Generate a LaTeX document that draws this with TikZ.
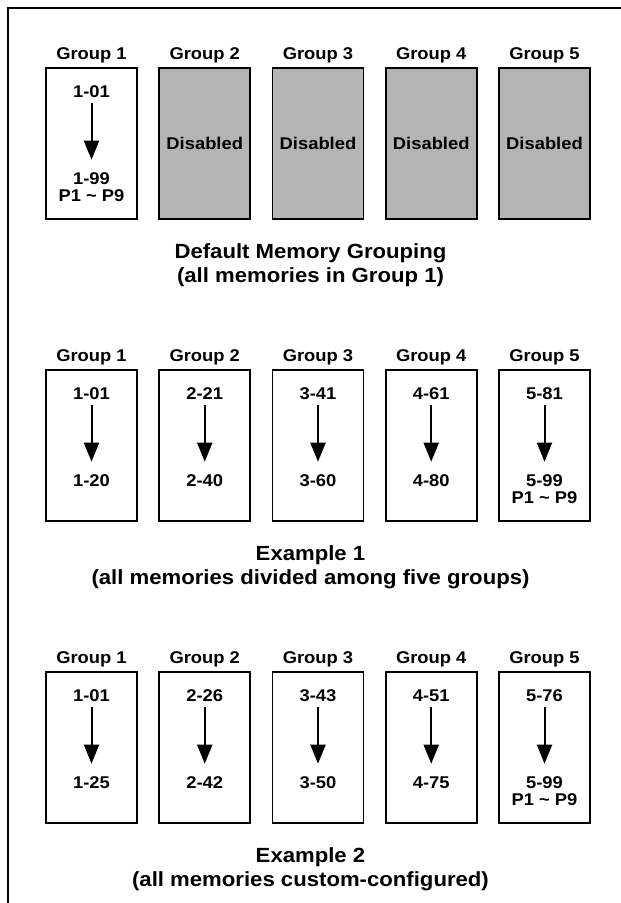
\documentclass[tikz,border=0pt]{standalone}
\usepackage{fontspec}
\setmainfont{Liberation Sans}[FakeStretch=1.08]
\usetikzlibrary{arrows.meta}
\definecolor{disgray}{RGB}{180,180,180}
\begin{document}
\begin{tikzpicture}[x=1pt,y=-1pt,
  txt/.style={font=\fontsize{17}{20}\selectfont\bfseries, inner sep=0pt, text height=12.2pt, text depth=0pt},
  membox/.style={draw=black, line width=1.8pt, minimum width=91pt, minimum height=151pt, inner sep=0pt, fill=white},
  disbox/.style={membox, fill=disgray},
  arr/.style={line width=2pt, -{Triangle[length=19pt,width=15pt]}, shorten <=6pt, shorten >=12pt},
  captxt/.style={font=\fontsize{20.5}{24}\selectfont\bfseries, inner sep=0pt, text height=14.6pt, text depth=0pt},
  frameline/.style={line width=2pt}]
\useasboundingbox (0,0) rectangle (621,903);
% frame
\coordinate (fbl) at (8,903);
\coordinate (ftl) at (8,8);
\coordinate (ftr) at (621,8);
\draw[frameline] (fbl) -- (ftl) -- (ftr);

% ---------- Row 1 (T=68)
\foreach \i in {1,...,5}{
  \pgfmathsetmacro{\cx}{46+45.5+113.25*(\i-1)}
  \node[txt] (ga\i) at (\cx,53) {Group \i};
}
\node[membox] (ba1) at (91.5,143.5) {};
\node[txt] (sa1) at (91.5,91) {1-01};
\node[txt] (ea1) at (91.5,178) {1-99};
\node[txt] (pa1) at (91.5,195) {P1 \textasciitilde{} P9};
\draw[arr] (sa1.south) -- (ea1.north);
\foreach \i in {2,...,5}{
  \pgfmathsetmacro{\cx}{46+45.5+113.25*(\i-1)}
  \node[disbox] (ba\i) at (\cx,143.5) {};
  \node[txt] (da\i) at (\cx,143) {Disabled};
}
\node[captxt] (ca1) at (310.5,251) {Default Memory Grouping};
\node[captxt] (ca2) at (310.5,275) {(all memories in Group 1)};

% ---------- Row 2 (T=370)
\foreach \i/\s/\e in {1/1-01/1-20,2/2-21/2-40,3/3-41/3-60,4/4-61/4-80,5/5-81/5-99}{
  \pgfmathsetmacro{\cx}{46+45.5+113.25*(\i-1)}
  \node[txt] (gb\i) at (\cx,355) {Group \i};
  \node[membox] (bb\i) at (\cx,445.5) {};
  \node[txt] (sb\i) at (\cx,393) {\s};
  \node[txt] (eb\i) at (\cx,480) {\e};
  \draw[arr] (sb\i.south) -- (eb\i.north);
}
\node[txt] (pb5) at (544.5,497) {P1 \textasciitilde{} P9};
\node[captxt] (cb1) at (310.5,553) {Example 1};
\node[captxt] (cb2) at (310.5,577) {(all memories divided among five groups)};

% ---------- Row 3 (T=672)
\foreach \i/\s/\e in {1/1-01/1-25,2/2-26/2-42,3/3-43/3-50,4/4-51/4-75,5/5-76/5-99}{
  \pgfmathsetmacro{\cx}{46+45.5+113.25*(\i-1)}
  \node[txt] (gc\i) at (\cx,657) {Group \i};
  \node[membox] (bc\i) at (\cx,747.5) {};
  \node[txt] (sc\i) at (\cx,695) {\s};
  \node[txt] (ec\i) at (\cx,782) {\e};
  \draw[arr] (sc\i.south) -- (ec\i.north);
}
\node[txt] (pc5) at (544.5,799) {P1 \textasciitilde{} P9};
\node[captxt] (cc1) at (310.5,855) {Example 2};
\node[captxt] (cc2) at (310.5,879) {(all memories custom-configured)};
\end{tikzpicture}
\end{document}
